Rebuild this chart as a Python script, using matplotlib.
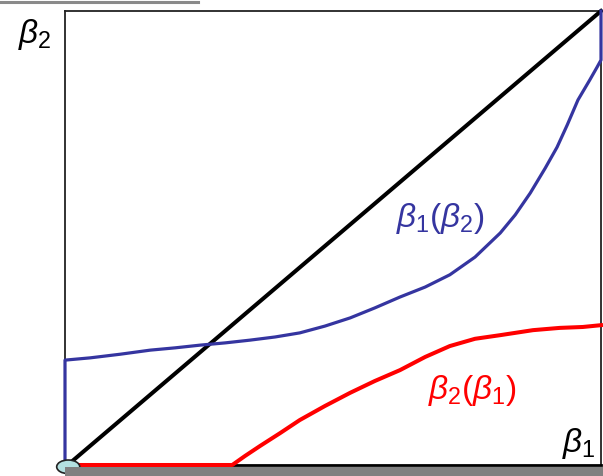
import matplotlib
matplotlib.use("Agg")
import matplotlib.pyplot as plt
from matplotlib.patches import Ellipse, Rectangle
from matplotlib.lines import Line2D

plt.rcParams['mathtext.fontset'] = 'custom'
plt.rcParams['mathtext.it'] = 'Liberation Sans:italic'
plt.rcParams['mathtext.rm'] = 'Liberation Sans'

# best response curves, normalised to the unit square
blue_b1 = [0, 0, 0.047, 0.103, 0.159, 0.205, 0.252, 0.299, 0.345, 0.392, 0.438,
           0.485, 0.532, 0.578, 0.625, 0.672, 0.718, 0.765, 0.812, 0.840, 0.868,
           0.896, 0.918, 0.937, 0.957, 0.979, 0.993, 1.0, 1.0]
blue_b2 = [0, 0.231, 0.236, 0.244, 0.253, 0.258, 0.264, 0.269, 0.275, 0.282, 0.291,
           0.306, 0.324, 0.346, 0.370, 0.392, 0.419, 0.458, 0.511, 0.551, 0.599,
           0.654, 0.700, 0.749, 0.804, 0.848, 0.877, 0.892, 1.0]

red_b1 = [0.009, 0.312, 0.336, 0.364, 0.401, 0.438, 0.485, 0.532, 0.578, 0.625,
          0.672, 0.718, 0.765, 0.812, 0.873, 0.923, 0.966, 1.0]
red_b2 = [0, 0, 0.020, 0.042, 0.070, 0.099, 0.130, 0.159, 0.185, 0.209,
          0.238, 0.262, 0.278, 0.286, 0.297, 0.302, 0.304, 0.308]

diag_b1 = [0.005, 1.0]
diag_b2 = [0.0, 1.0]

W, H = 603, 476
fig = plt.figure(figsize=(W / 100, H / 100), dpi=100)
ax = fig.add_axes([65 / W, 11 / H, 536 / W, 454 / H])
ax.set_xlim(0, 1)
ax.set_ylim(0, 1)
ax.set_xticks([])
ax.set_yticks([])
for s in ['left', 'top', 'right']:
    ax.spines[s].set_linewidth(1.3)
    ax.spines[s].set_color('#222222')
ax.spines['bottom'].set_linewidth(2)
ax.spines['bottom'].set_color('black')

ax.plot(diag_b1, diag_b2, color='black', lw=2.9, clip_on=False, zorder=3)
ax.plot(blue_b1, blue_b2, color='#3535a0', lw=2.3, clip_on=False, zorder=4)
ax.plot(red_b1, red_b2, color='#ff0000', lw=2.9, clip_on=False, zorder=4)

ax.add_patch(Ellipse((0.006, -0.004), 0.043, 0.03, facecolor='#b3e0e0',
                     edgecolor='#222222', lw=1.2, clip_on=False, zorder=6))

ax.text(0.70, 0.544, r'$\beta_1(\beta_2)$', color='#3535a0', fontsize=24,
        ha='center', va='center')
ax.text(0.76, 0.165, r'$\beta_2(\beta_1)$', color='#ff0000', fontsize=24,
        ha='center', va='center')
ax.text(0.958, 0.048, r'$\beta_1$', color='black', fontsize=24,
        ha='center', va='center')
fig.text(35 / W, 1 - 35 / H, r'$\beta_2$', color='black', fontsize=24,
         ha='center', va='center')

# grey strips at the top-left and along the bottom
fig.add_artist(Line2D([0, 198 / W], [1 - 1.5 / H, 1 - 1.5 / H],
                      color='#8a8a8a', lw=2.2))
fig.add_artist(Rectangle((65 / W, 0), 1 - 65 / W, 9 / H, facecolor='#808080',
                         edgecolor='none', transform=fig.transFigure))

fig.savefig('out.png', dpi=100)
